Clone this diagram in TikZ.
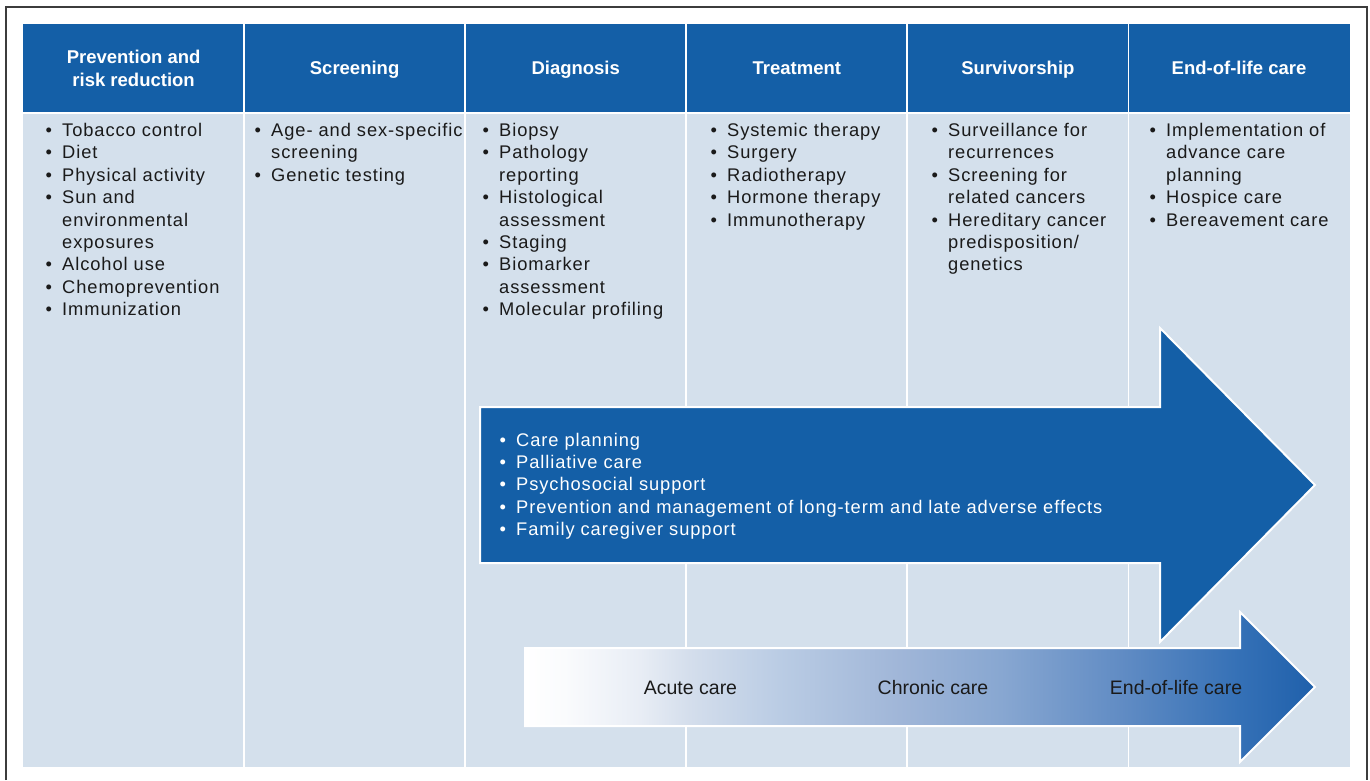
\documentclass[tikz,border=0pt]{standalone}
\usepackage{fontspec}
\setmainfont{Liberation Sans}
\newfontfamily\bodyfont[LetterSpace=5]{Liberation Sans}

\definecolor{hdblue}{HTML}{145FA7}
\definecolor{cellbg}{HTML}{D4E0EC}
\definecolor{ink}{HTML}{1A1A1A}
\definecolor{framegray}{HTML}{3C3C3C}
% stops of the care-phase band, from white to deep blue
\definecolor{gA}{HTML}{FAFBFD}
\definecolor{gB}{HTML}{E8EDF5}
\definecolor{gC}{HTML}{D4DEEC}
\definecolor{gD}{HTML}{BACCE4}
\definecolor{gE}{HTML}{A0B6D8}
\definecolor{gF}{HTML}{88A7D1}
\definecolor{gG}{HTML}{618CC4}
\definecolor{gH}{HTML}{3470B6}
\definecolor{gI}{HTML}{1F60AB}
\pgfdeclarehorizontalshading{carephase}{100bp}{%
  color(0bp)=(white); color(25bp)=(white); color(27.5bp)=(gA);
  color(32.3bp)=(gB); color(35.4bp)=(gC); color(41.1bp)=(gD);
  color(48.7bp)=(gE); color(55.1bp)=(gF); color(62.7bp)=(gG);
  color(70.3bp)=(gH); color(75bp)=(gI); color(100bp)=(gI)}

% bullet hanging to the left of the item text
\newcommand\bu{\llap{\makebox[16.6pt][l]{•}}}

\tikzset{
  headtext/.style={anchor=base, inner sep=0pt, text=white,
    font=\bfseries\fontsize{18.5}{23}\selectfont},
  itemlist/.style={anchor=base west, inner sep=0pt, text=ink,
    font=\bodyfont\fontsize{18.3}{22.4}\selectfont},
  whitelist/.style={itemlist, text=white},
  phase/.style={anchor=base, inner sep=0pt, text=ink,
    font=\fontsize{19.5}{22}\selectfont},
  sepline/.style={white, line width=1.8pt}
}

\begin{document}
\begin{tikzpicture}[x=1pt, y=-1pt, line join=miter]
\useasboundingbox (0,0) rectangle (1370,780);
\fill[white] (0,0) rectangle (1370,780);

% outer frame, open at the bottom
\draw[framegray, line width=2pt] (6,780) -- (6,6.5) -- (1367,6.5) -- (1367,780);

% table body and header band
\fill[cellbg] (23,24) rectangle (1349.5,767);
\fill[hdblue] (23,24) rectangle (1349.5,113);
\draw[sepline] (23,113) -- (1349.5,113);
\foreach \x in {244.1,465.2,686.25,907.3,1128.4}
  \draw[sepline] (\x,24) -- (\x,767);

% column headings
\node[headtext] (h1) at (133.6,63.3)
  {\begin{tabular}[t]{@{}c@{}}Prevention and\\risk reduction\end{tabular}};
\node[headtext] (h2) at (354.6,74) {Screening};
\node[headtext] (h3) at (575.7,74) {Diagnosis};
\node[headtext] (h4) at (796.8,74) {Treatment};
\node[headtext] (h5) at (1017.9,74) {Survivorship};
\node[headtext] (h6) at (1239,74) {End-of-life care};

% column contents
\node[itemlist] (l1) at (62,136.5) {\begin{tabular}[t]{@{}l@{}}
  \bu Tobacco control\\ \bu Diet\\ \bu Physical activity\\ \bu Sun and\\
  environmental\\ exposures\\ \bu Alcohol use\\ \bu Chemoprevention\\
  \bu Immunization\end{tabular}};
\node[itemlist] (l2) at (271,136.5) {\begin{tabular}[t]{@{}l@{}}
  \bu Age- and sex-specific\\ screening\\ \bu Genetic testing\end{tabular}};
\node[itemlist] (l3) at (499,136.5) {\begin{tabular}[t]{@{}l@{}}
  \bu Biopsy\\ \bu Pathology\\ reporting\\ \bu Histological\\ assessment\\
  \bu Staging\\ \bu Biomarker\\ assessment\\ \bu Molecular profiling\end{tabular}};
\node[itemlist] (l4) at (727,136.5) {\begin{tabular}[t]{@{}l@{}}
  \bu Systemic therapy\\ \bu Surgery\\ \bu Radiotherapy\\ \bu Hormone therapy\\
  \bu Immunotherapy\end{tabular}};
\node[itemlist] (l5) at (948,136.5) {\begin{tabular}[t]{@{}l@{}}
  \bu Surveillance for\\ recurrences\\ \bu Screening for\\ related cancers\\
  \bu Hereditary cancer\\ predisposition/\\ genetics\end{tabular}};
\node[itemlist] (l6) at (1166,136.5) {\begin{tabular}[t]{@{}l@{}}
  \bu Implementation of\\ advance care\\ planning\\ \bu Hospice care\\
  \bu Bereavement care\end{tabular}};

% supportive care arrow
\draw[white, line width=2pt, fill=hdblue]
  (480,407) -- (1160,407) -- (1160,328) -- (1315,485) -- (1160,642)
  -- (1160,563) -- (480,563) -- cycle;
\node[whitelist] (support) at (516,446) {\begin{tabular}[t]{@{}l@{}}
  \bu Care planning\\ \bu Palliative care\\ \bu Psychosocial support\\
  \bu Prevention and management of long-term and late adverse effects\\
  \bu Family caregiver support\end{tabular}};

% care phase band
\shadedraw[shading=carephase, draw=white, line width=2pt]
  (525,648) -- (1240,648) -- (1240,612) -- (1315,687) -- (1240,762)
  -- (1240,726) -- (525,726) -- cycle;
\node[phase] (acute) at (690.5,694) {Acute care};
\node[phase] (chronic) at (933,694) {Chronic care};
\node[phase] (eol) at (1176,694) {End-of-life care};
\end{tikzpicture}
\end{document}
